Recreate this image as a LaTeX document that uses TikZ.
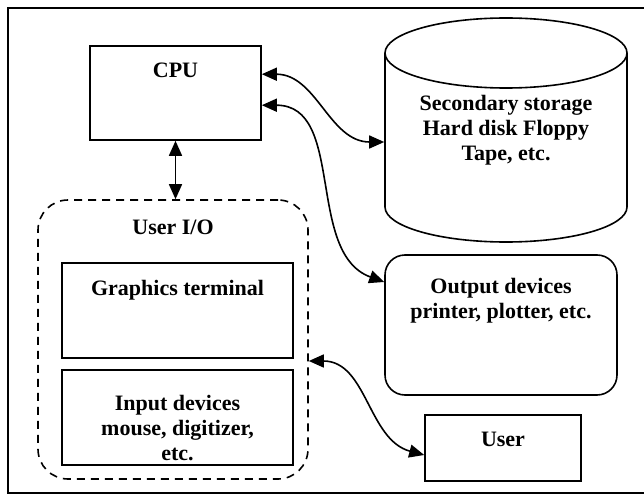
\documentclass[tikz,border=0pt]{standalone}
\usepackage{fontspec}
\setmainfont{Liberation Serif}
\usetikzlibrary{arrows.meta}

\begin{document}
\begin{tikzpicture}[
            x=1pt, y=1pt,
            line width=1.6pt,
            every node/.style={font=\fontsize{22}{25}\selectfont\bfseries, align=center},
            box/.style={draw, rectangle, inner sep=0pt},
            roundbox/.style={box, rounded corners=20pt},
            groupbox/.style={box, dash pattern=on 8pt off 6pt, rounded corners=30pt},
            toplabel/.style={anchor=north, inner sep=0pt},
            link/.style={{Triangle[length=15pt,width=13pt]}-{Triangle[length=15pt,width=13pt]}}
        ]
            \useasboundingbox (0,0) rectangle (644,496);
            \draw[line width=2pt] (8,3) rectangle (660,488);

            \node[box, minimum width=171pt, minimum height=94pt] (cpu) at (175.5,403) {};
            \node[toplabel] (cpulbl) at ([yshift=-17pt]cpu.north) {CPU};

            \draw (385,443) -- (385,289) arc[start angle=180, end angle=360, x radius=121pt, y radius=35pt] -- (627,443);
            \draw (506,443) ellipse[x radius=121pt, y radius=35pt];
            \node[inner sep=0pt, minimum width=242pt, minimum height=154pt] (storage) at (506,366) {};
            \node (storagelbl) at (506,366) {Secondary storage\\Hard disk Floppy\\Tape, etc.};

            \node[roundbox, minimum width=232pt, minimum height=140pt] (output) at (501,171) {};
            \node[toplabel] (outputlbl) at ([yshift=-23pt]output.north) {Output devices\\printer, plotter, etc.};

            \node[box, minimum width=156pt, minimum height=66pt] (user) at (503,48) {};
            \node[toplabel] (userlbl) at ([yshift=-17pt]user.north) {User};

            \node[groupbox, minimum width=270pt, minimum height=279pt] (userio) at (173,156.5) {};
            \node[toplabel] (useriolbl) at ([yshift=-20pt]userio.north) {User I/O};

            \node[box, minimum width=231pt, minimum height=95pt] (graphics) at (177.5,185.5) {};
            \node[toplabel] (graphicslbl) at ([yshift=-17pt]graphics.north) {Graphics terminal};

            \node[box, minimum width=231pt, minimum height=95pt] (input) at (177.5,78.5) {};
            \node[toplabel] (inputlbl) at ([yshift=-25pt]input.north) {Input devices\\mouse, digitizer,\\etc.};

            \draw[link] (cpu.south) -- (cpu.south |- userio.north);
            \draw[link] ([yshift=-29pt]cpu.north east) to[out=0, in=180] ([yshift=-12pt]storage.west);
            \draw[link] ([yshift=-60pt]cpu.north east) to[out=0, in=160] ([yshift=43pt]output.west);
            \draw[link] ([yshift=-21.5pt]userio.east) to[out=0, in=165] ([yshift=-7pt]user.west);
        \end{tikzpicture}
\end{document}
